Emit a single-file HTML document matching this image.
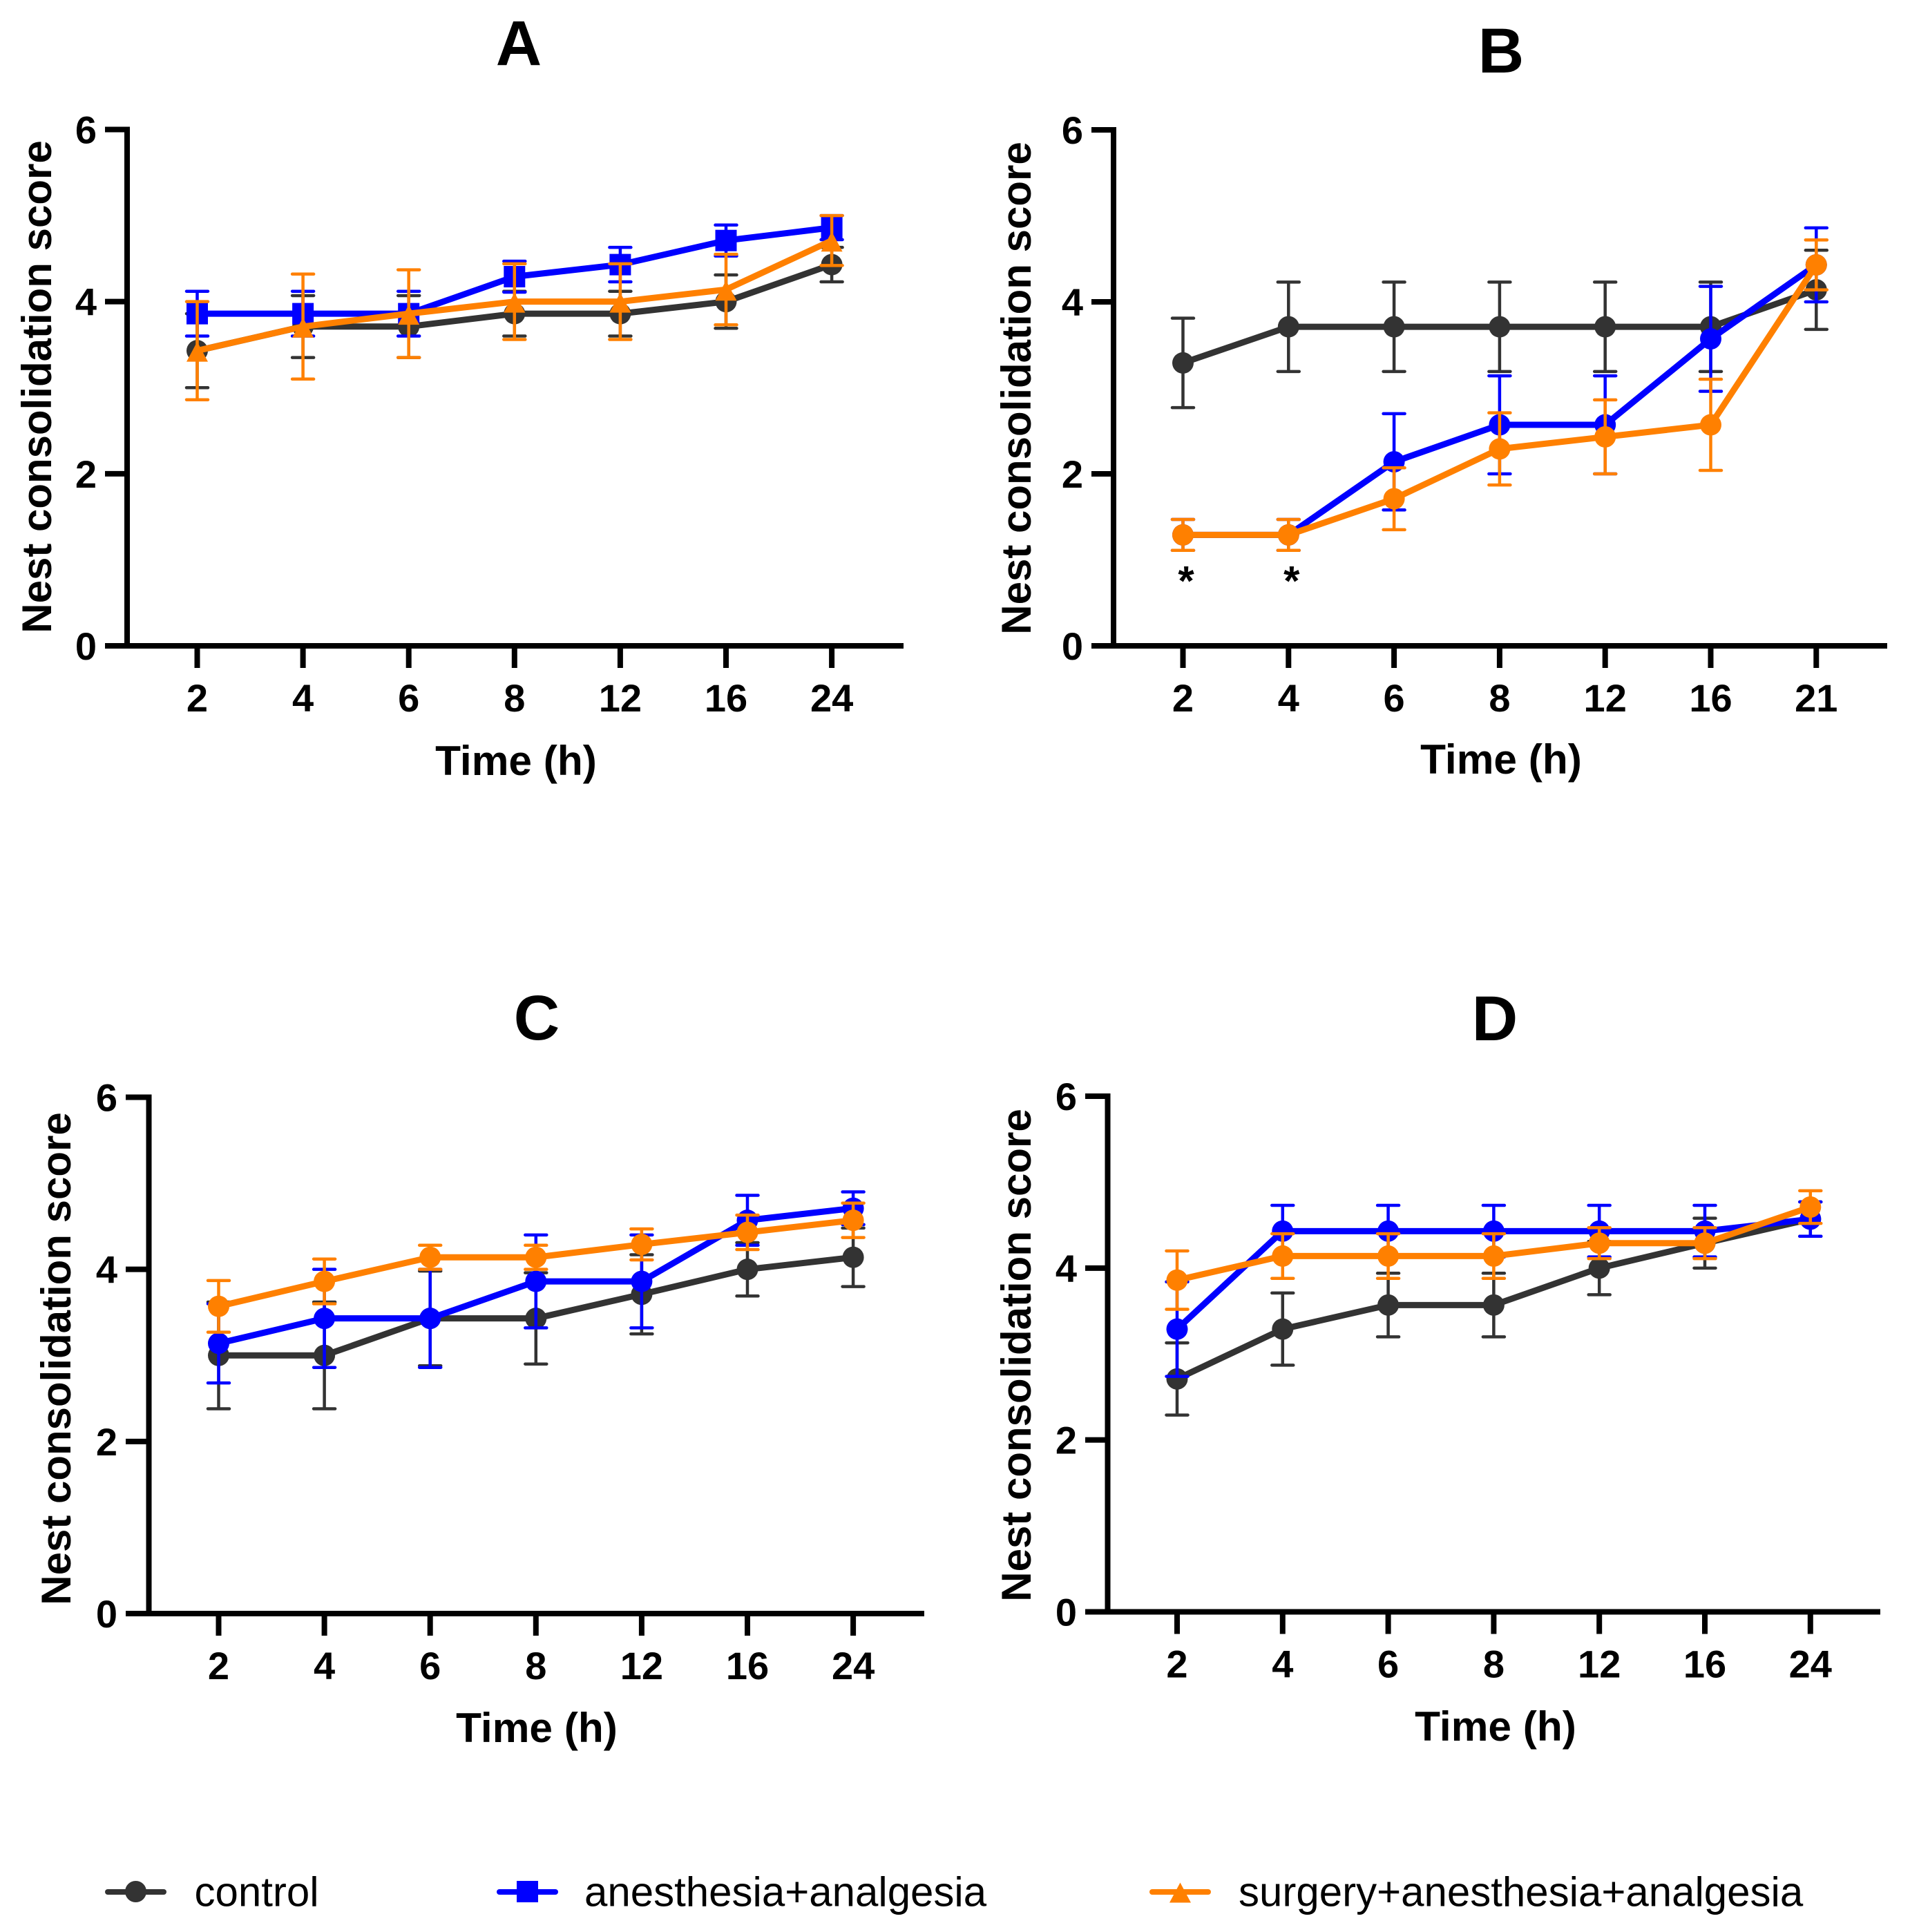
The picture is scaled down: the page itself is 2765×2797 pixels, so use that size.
<!DOCTYPE html>
<html lang="en">
<head>
<meta charset="utf-8">
<title>Nest consolidation score</title>
<style>
  html, body { margin: 0; padding: 0; background: #fff; }
  svg { display: block; font-family: "Liberation Sans", Arial, sans-serif; }
</style>
</head>
<body>
<svg id="figure" xmlns="http://www.w3.org/2000/svg" width="2765" height="2797" viewBox="0 0 2765 2797"></svg>
<script>
// ----- Shared axis data -----
const yTickValues = [0, 2, 4, 6];
const yMax = 6;
const hoursStandard = ['2', '4', '6', '8', '12', '16', '24'];
const hoursPanelB = ['2', '4', '6', '8', '12', '16', '21'];

// ----- Panel A -----
const aControlMean = [3.43, 3.71, 3.71, 3.86, 3.86, 4.0, 4.43];
const aControlErr = [0.43, 0.36, 0.36, 0.26, 0.26, 0.31, 0.2];
const aAnesthesiaMean = [3.86, 3.86, 3.86, 4.29, 4.43, 4.71, 4.86];
const aAnesthesiaErr = [0.26, 0.26, 0.26, 0.18, 0.2, 0.18, 0.14];
const aSurgeryMean = [3.43, 3.71, 3.86, 4.0, 4.0, 4.14, 4.71];
const aSurgeryErr = [0.57, 0.61, 0.51, 0.44, 0.44, 0.41, 0.29];

// ----- Panel B -----
const bControlMean = [3.29, 3.71, 3.71, 3.71, 3.71, 3.71, 4.14];
const bControlErr = [0.52, 0.52, 0.52, 0.52, 0.52, 0.52, 0.46];
const bAnesthesiaMean = [1.29, 1.29, 2.14, 2.57, 2.57, 3.57, 4.43];
const bAnesthesiaErr = [0.18, 0.18, 0.56, 0.57, 0.57, 0.61, 0.43];
const bSurgeryMean = [1.29, 1.29, 1.71, 2.29, 2.43, 2.57, 4.43];
const bSurgeryErr = [0.18, 0.18, 0.36, 0.42, 0.43, 0.53, 0.29];

// ----- Panel C -----
const cControlMean = [3.0, 3.0, 3.43, 3.43, 3.71, 4.0, 4.14];
const cControlErr = [0.62, 0.62, 0.55, 0.53, 0.46, 0.31, 0.34];
const cAnesthesiaMean = [3.14, 3.43, 3.43, 3.86, 3.86, 4.57, 4.71];
const cAnesthesiaErr = [0.46, 0.57, 0.57, 0.54, 0.54, 0.29, 0.19];
const cSurgeryMean = [3.57, 3.86, 4.14, 4.14, 4.29, 4.43, 4.57];
const cSurgeryErr = [0.3, 0.26, 0.14, 0.14, 0.18, 0.2, 0.2];

// ----- Panel D -----
const dControlMean = [2.71, 3.29, 3.57, 3.57, 4.0, 4.29, 4.57];
const dControlErr = [0.42, 0.42, 0.37, 0.37, 0.31, 0.29, 0.2];
const dAnesthesiaMean = [3.29, 4.43, 4.43, 4.43, 4.43, 4.43, 4.57];
const dAnesthesiaErr = [0.55, 0.3, 0.3, 0.3, 0.3, 0.3, 0.2];
const dSurgeryMean = [3.86, 4.14, 4.14, 4.14, 4.29, 4.29, 4.71];
const dSurgeryErr = [0.34, 0.26, 0.26, 0.26, 0.18, 0.18, 0.19];

// Significance markers in panel B: category index and the value they sit at
const bStarIndex = [0, 1];
const bStarValue = 0.83;

const legendLabels = ['control', 'anesthesia+analgesia', 'surgery+anesthesia+analgesia'];

// ----- Styling and layout -----
const COLORS = { control: '#333333', anesthesia: '#0000ff', surgery: '#ff8000' };
const SVGNS = 'http://www.w3.org/2000/svg';
const fig = document.getElementById('figure');

function make(tag, attrs, parent) {
  const n = document.createElementNS(SVGNS, tag);
  for (const k in attrs) n.setAttribute(k, attrs[k]);
  (parent || fig).appendChild(n);
  return n;
}

function drawMarker(shape, cx, cy, color, parent) {
  let m;
  if (shape === 'square') {
    m = make('rect', { x: cx - 15.5, y: cy - 15.5, width: 31, height: 31, fill: color }, parent);
  } else if (shape === 'triangle') {
    m = make('polygon', { points: (cx - 15.5) + ',' + (cy + 16) + ' ' + (cx + 15.5) + ',' + (cy + 16) + ' ' + cx + ',' + (cy - 13), fill: color }, parent);
  } else {
    m = make('circle', { cx: cx, cy: cy, r: 15.5, fill: color }, parent);
  }
  
  
  return m;
}

function drawSeries(g, key, means, errs, shape, xAt, yAt) {
  const color = COLORS[key];
  const group = make('g', {}, g);
  
  

  means.forEach(function (v, i) {
    const x = xAt(i);
    const hi = yAt(v + errs[i]);
    const lo = yAt(v - errs[i]);
    const bar = make('path', {
      d: 'M' + x + ' ' + hi + 'V' + lo + 'M' + (x - 15.5) + ' ' + hi + 'H' + (x + 15.5) + 'M' + (x - 15.5) + ' ' + lo + 'H' + (x + 15.5),
      stroke: color, 'stroke-width': 4.5, 'stroke-linecap': 'round', fill: 'none'
    }, group);
    
    
  });

  const line = make('polyline', {
    points: means.map(function (v, i) { return xAt(i) + ',' + yAt(v); }).join(' '),
    stroke: color, 'stroke-width': 9, fill: 'none', 'stroke-linejoin': 'round'
  }, group);
  
  

  means.forEach(function (v, i) {
    drawMarker(shape, xAt(i), yAt(v), color, group);
  });
}

function drawPanel(p) {
  const g = make('g', {});
  
  

  const xAt = function (i) { return p.x0 + i * p.step; };
  const yAt = function (v) { return p.y0 - (v / yMax) * (p.y0 - p.yTop); };

  // Title
  const title = make('text', { x: p.titleX, y: p.titleY, 'text-anchor': 'middle', 'font-size': 92, 'font-weight': 'bold', fill: '#000' }, g);
  title.textContent = p.title;
  
  

  p.series.forEach(function (s) {
    drawSeries(g, s.key, s.mean, s.err, s.shape, xAt, yAt);
  });

  // Axes
  const yAxis = make('line', { x1: p.axisX, x2: p.axisX, y1: yAt(yMax) - 4, y2: p.y0 + 4, stroke: '#000', 'stroke-width': 8 }, g);
  
  
  const xAxis = make('line', { x1: p.axisLeft, x2: p.axisRight, y1: p.y0, y2: p.y0, stroke: '#000', 'stroke-width': 8 }, g);
  
  

  yTickValues.forEach(function (v) {
    const y = yAt(v);
    const tick = make('line', { x1: p.axisLeft, x2: p.axisX, y1: y, y2: y, stroke: '#000', 'stroke-width': 8 }, g);
    
    
    const label = make('text', { x: p.axisLeft - 12, y: y + 20, 'text-anchor': 'end', 'font-size': 56, 'font-weight': 'bold', fill: '#000' }, g);
    label.textContent = String(v);
    
    
  });

  p.categories.forEach(function (c, i) {
    const x = xAt(i);
    const tick = make('line', { x1: x, x2: x, y1: p.y0, y2: p.y0 + 32, stroke: '#000', 'stroke-width': 8 }, g);
    
    
    const label = make('text', { x: x, y: p.y0 + 95, 'text-anchor': 'middle', 'font-size': 56, 'font-weight': 'bold', fill: '#000' }, g);
    label.textContent = c;
    
    
  });

  // Axis titles
  const xTitle = make('text', { x: p.xTitleX, y: p.xTitleY, 'text-anchor': 'middle', 'font-size': 60.4, 'font-weight': 'bold', fill: '#000' }, g);
  xTitle.textContent = 'Time (h)';
  
  

  const yTitle = make('text', { x: 0, y: 0, transform: 'translate(' + p.yTitleX + ' ' + p.yTitleY + ') rotate(-90)', 'text-anchor': 'middle', 'font-size': 60, 'font-weight': 'bold', fill: '#000' }, g);
  yTitle.textContent = 'Nest consolidation score';
  
  

  return { g: g, xAt: xAt, yAt: yAt };
}

function seriesSet(cm, ce, am, ae, sm, se, shapes) {
  return [
    { key: 'control', mean: cm, err: ce, shape: shapes[0] },
    { key: 'anesthesia', mean: am, err: ae, shape: shapes[1] },
    { key: 'surgery', mean: sm, err: se, shape: shapes[2] }
  ];
}

const circles = ['circle', 'circle', 'circle'];

drawPanel({
  title: 'A', titleX: 751, titleY: 94,
  x0: 285.5, step: 153.1, y0: 935, yTop: 187.5,
  axisX: 184, axisLeft: 152, axisRight: 1308,
  xTitleX: 747, xTitleY: 1122, yTitleX: 74, yTitleY: 560,
  categories: hoursStandard,
  series: seriesSet(aControlMean, aControlErr, aAnesthesiaMean, aAnesthesiaErr, aSurgeryMean, aSurgeryErr, ['circle', 'square', 'triangle'])
});

const panelB = drawPanel({
  title: 'B', titleX: 2173, titleY: 105,
  x0: 1712.5, step: 152.8, y0: 935, yTop: 188,
  axisX: 1612, axisLeft: 1580, axisRight: 2732,
  xTitleX: 2173, xTitleY: 1120, yTitleX: 1492, yTitleY: 562,
  categories: hoursPanelB,
  series: seriesSet(bControlMean, bControlErr, bAnesthesiaMean, bAnesthesiaErr, bSurgeryMean, bSurgeryErr, circles)
});

bStarIndex.forEach(function (i) {
  const star = make('text', { x: panelB.xAt(i) + 4.5, y: panelB.yAt(bStarValue) + 30, 'text-anchor': 'middle', 'font-size': 60, 'font-weight': 'bold', fill: '#000' }, panelB.g);
  star.textContent = '*';
  
  
});

drawPanel({
  title: 'C', titleX: 777, titleY: 1505,
  x0: 316.5, step: 153.1, y0: 2336, yTop: 1588.5,
  axisX: 215.5, axisLeft: 182, axisRight: 1338,
  xTitleX: 777, xTitleY: 2522, yTitleX: 102, yTitleY: 1967,
  categories: hoursStandard,
  series: seriesSet(cControlMean, cControlErr, cAnesthesiaMean, cAnesthesiaErr, cSurgeryMean, cSurgeryErr, circles)
});

drawPanel({
  title: 'D', titleX: 2164, titleY: 1506,
  x0: 1704, step: 152.8, y0: 2333.5, yTop: 1587,
  axisX: 1603.5, axisLeft: 1571, axisRight: 2722,
  xTitleX: 2165, xTitleY: 2520, yTitleX: 1492, yTitleY: 1962,
  categories: hoursStandard,
  series: seriesSet(dControlMean, dControlErr, dAnesthesiaMean, dAnesthesiaErr, dSurgeryMean, dSurgeryErr, circles)
});

// ----- Legend -----
const legendGroup = make('g', {});



const legendKeys = ['control', 'anesthesia', 'surgery'];
const legendShapes = ['circle', 'square', 'triangle'];
const legendStartX = [152, 719, 1664];
const legendTextX = [281.5, 846, 1793];

legendLabels.forEach(function (label, i) {
  const color = COLORS[legendKeys[i]];
  const entry = make('g', {}, legendGroup);
  
  
  const swatch = make('line', { x1: legendStartX[i] + 4, x2: legendStartX[i] + 85, y1: 2739, y2: 2739, stroke: color, 'stroke-width': 8, 'stroke-linecap': 'round' }, entry);
  
  
  drawMarker(legendShapes[i], legendStartX[i] + 44.5, 2738.5, color, entry);
  const text = make('text', { x: legendTextX[i], y: 2759.5, 'font-size': 60, fill: '#000' }, entry);
  text.textContent = label;
  
  
});
</script>
</body>
</html>
